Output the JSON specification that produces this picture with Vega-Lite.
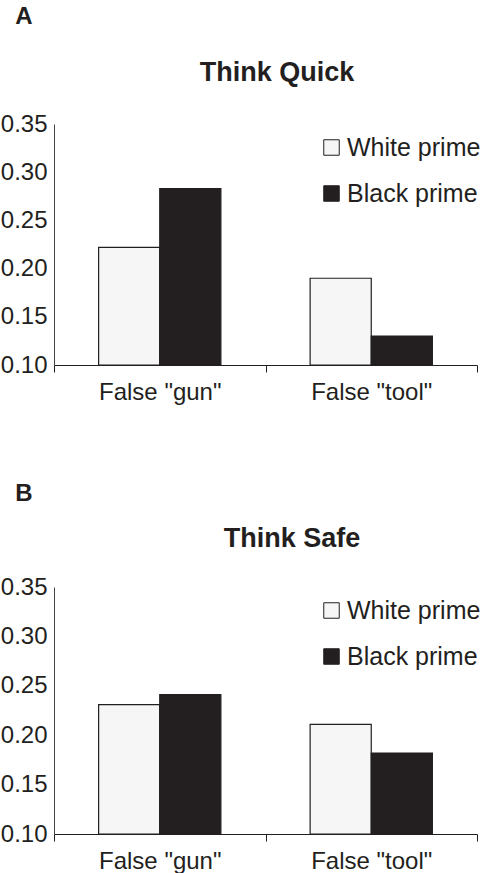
{
  "$schema": "https://vega.github.io/schema/vega-lite/v6.json",
  "padding": {"left": 0, "top": 5, "right": 0, "bottom": 0},
  "background": "white",
  "config": {
    "font": "Liberation Sans",
    "view": {"stroke": null},
    "axis": {"labelFont": "Liberation Sans", "labelColor": "#231f20", "labelFontSize": 24, "grid": false, "title": null},
    "legend": {"labelFont": "Liberation Sans", "labelFontSize": 25, "labelColor": "#231f20"}
  },
  "spacing": 78,
  "resolve": {"scale": {"color": "independent"}, "legend": {"color": "independent"}},
  "vconcat": [
    {
      "title": {"text": "A", "anchor": "start", "fontSize": 24, "fontWeight": "bold", "color": "#231f20", "baseline": "alphabetic", "offset": 11, "dx": 15},
      "resolve": {"scale": {"color": "independent"}, "legend": {"color": "independent"}},
      "vconcat": [
        {
          "title": {"text": "Think Quick", "anchor": "middle", "frame": "group", "fontSize": 27, "fontWeight": "bold", "color": "#231f20", "baseline": "alphabetic", "offset": 4, "dx": 11.5},
          "width": 423,
          "height": 241,
          "data": {"values": [
            {"category": "False \"gun\"", "prime": "White prime", "rate": 0.222},
            {"category": "False \"gun\"", "prime": "Black prime", "rate": 0.283},
            {"category": "False \"tool\"", "prime": "White prime", "rate": 0.190},
            {"category": "False \"tool\"", "prime": "Black prime", "rate": 0.130}
          ]},
          "mark": {"type": "bar", "stroke": "#231f20", "strokeWidth": 1.2},
          "encoding": {
            "x": {"field": "category", "type": "nominal", "sort": null, "scale": {"paddingInner": 0, "paddingOuter": 0},
                  "axis": {"labelAngle": 0, "tickBand": "extent", "tickSize": 7, "tickColor": "#231f20", "domainColor": "#231f20", "labelPadding": 8}},
            "xOffset": {"field": "prime", "type": "nominal", "sort": ["White prime", "Black prime"], "scale": {"paddingOuter": 0.73, "paddingInner": 0}},
            "y": {"field": "rate", "type": "quantitative", "scale": {"domain": [0.1, 0.35], "zero": false, "nice": false},
                  "axis": {"values": [0.1, 0.15, 0.2, 0.25, 0.3, 0.35], "format": ".2f", "ticks": false, "labelPadding": 7, "domainColor": "#444444"}},
            "y2": {"datum": 0.1},
            "color": {"field": "prime", "type": "nominal", "sort": ["White prime", "Black prime"],
                      "scale": {"domain": ["White prime", "Black prime"], "range": ["#f6f6f6", "#231f20"]},
                      "legend": {"title": null, "orient": "none", "legendX": 265, "legendY": 11, "symbolType": "square", "symbolSize": 240, "symbolStrokeColor": "#231f20", "symbolStrokeWidth": 1, "symbolOpacity": 1, "labelOffset": 3, "rowPadding": 20, "padding": 0}}
          }
        }
      ]
    },
    {
      "title": {"text": "B", "anchor": "start", "fontSize": 24, "fontWeight": "bold", "color": "#231f20", "baseline": "alphabetic", "offset": 0, "dx": 15},
      "resolve": {"scale": {"color": "independent"}, "legend": {"color": "independent"}},
      "vconcat": [
        {
          "title": {"text": "Think Safe", "anchor": "middle", "frame": "group", "fontSize": 27, "fontWeight": "bold", "color": "#231f20", "baseline": "alphabetic", "offset": 1, "dx": 26.5},
          "width": 423,
          "height": 247,
          "data": {"values": [
            {"category": "False \"gun\"", "prime": "White prime", "rate": 0.231},
            {"category": "False \"gun\"", "prime": "Black prime", "rate": 0.241},
            {"category": "False \"tool\"", "prime": "White prime", "rate": 0.211},
            {"category": "False \"tool\"", "prime": "Black prime", "rate": 0.182}
          ]},
          "mark": {"type": "bar", "stroke": "#231f20", "strokeWidth": 1.2},
          "encoding": {
            "x": {"field": "category", "type": "nominal", "sort": null, "scale": {"paddingInner": 0, "paddingOuter": 0},
                  "axis": {"labelAngle": 0, "tickBand": "extent", "tickSize": 7, "tickColor": "#231f20", "domainColor": "#231f20", "labelPadding": 8}},
            "xOffset": {"field": "prime", "type": "nominal", "sort": ["White prime", "Black prime"], "scale": {"paddingOuter": 0.73, "paddingInner": 0}},
            "y": {"field": "rate", "type": "quantitative", "scale": {"domain": [0.1, 0.35], "zero": false, "nice": false},
                  "axis": {"values": [0.1, 0.15, 0.2, 0.25, 0.3, 0.35], "format": ".2f", "ticks": false, "labelPadding": 7, "domainColor": "#444444"}},
            "y2": {"datum": 0.1},
            "color": {"field": "prime", "type": "nominal", "sort": ["White prime", "Black prime"],
                      "scale": {"domain": ["White prime", "Black prime"], "range": ["#f6f6f6", "#231f20"]},
                      "legend": {"title": null, "orient": "none", "legendX": 265, "legendY": 11, "symbolType": "square", "symbolSize": 240, "symbolStrokeColor": "#231f20", "symbolStrokeWidth": 1, "symbolOpacity": 1, "labelOffset": 3, "rowPadding": 20, "padding": 0}}
          }
        }
      ]
    }
  ]
}
